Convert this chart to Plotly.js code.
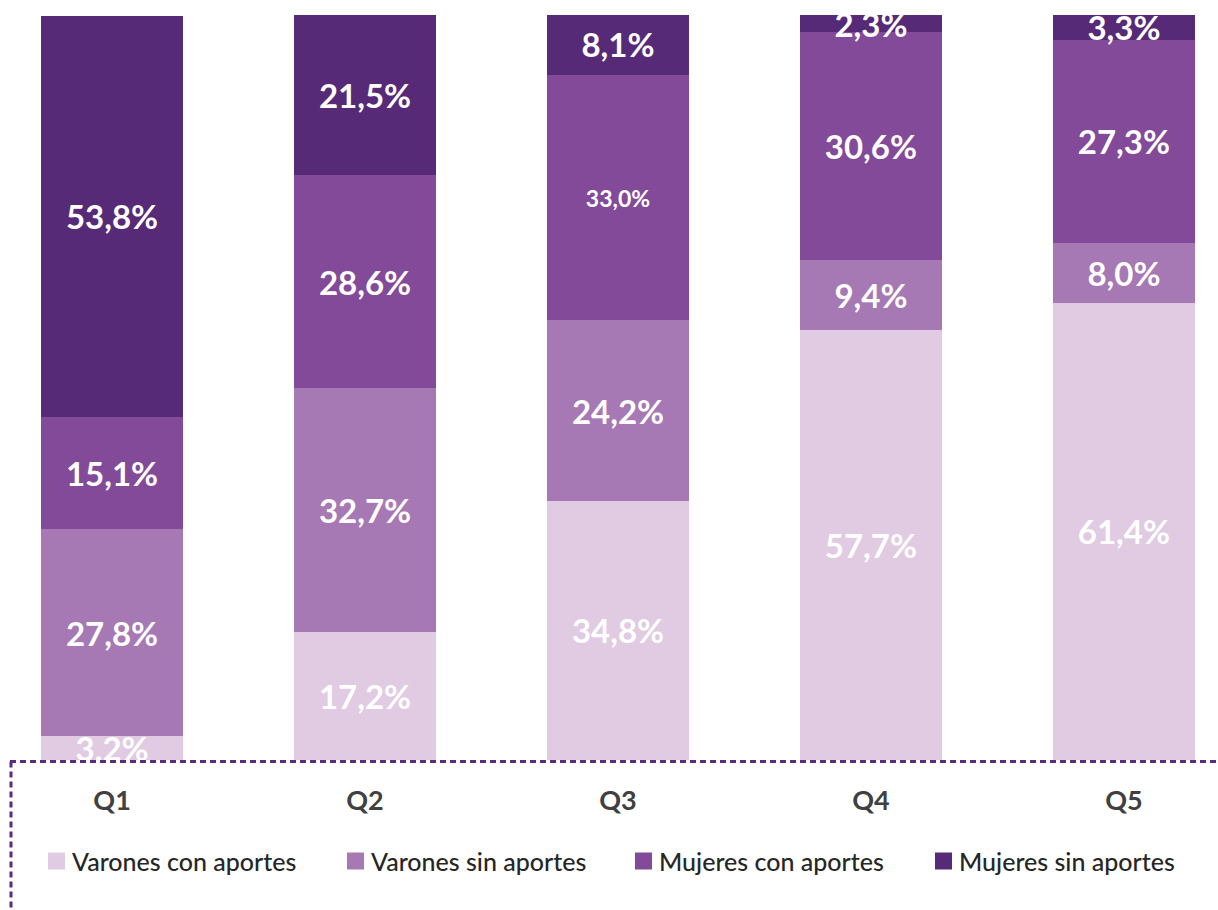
<!DOCTYPE html>
<html>
<head>
<meta charset="utf-8">
<script src="https://cdn.plot.ly/plotly-3.0.1.min.js"></script>
<style>
html,body{margin:0;padding:0;background:#fff;}
#chart{width:1218px;height:910px;}
</style>
</head>
<body>
<div id="chart"></div>
<script>
const categories = ['Q1', 'Q2', 'Q3', 'Q4', 'Q5'];
const seriesNames = ['Varones con aportes', 'Varones sin aportes', 'Mujeres con aportes', 'Mujeres sin aportes'];
const varonesConAportes = [3.2, 17.2, 34.8, 57.7, 61.4];
const varonesSinAportes = [27.8, 32.7, 24.2, 9.4, 8.0];
const mujeresConAportes = [15.1, 28.6, 33.0, 30.6, 27.3];
const mujeresSinAportes = [53.8, 21.5, 8.1, 2.3, 3.3];
const seriesColors = ['#E0CBE2', '#A779B4', '#834A9A', '#572A78'];
const labelSizes = [
  [33, 33, 33, 33, 33],
  [33, 33, 33, 33, 33],
  [33, 33, 23, 33, 33],
  [33, 33, 33, 33, 33]
];

const fmt = v => v.toFixed(1).replace('.', ',') + '%';
const allSeries = [varonesConAportes, varonesSinAportes, mujeresConAportes, mujeresSinAportes];
const legendIds = ['legend', 'legend2', 'legend3', 'legend4'];
const legendX = [32, 331, 619, 919];

const traces = allSeries.map((vals, i) => ({
  type: 'bar',
  name: seriesNames[i],
  legend: legendIds[i],
  x: categories,
  y: vals,
  text: vals.map(fmt),
  textposition: 'inside',
  insidetextanchor: 'middle',
  textangle: 0,
  constraintext: 'none',
  cliponaxis: true,
  textfont: {family: 'Lato, "Open Sans", sans-serif', size: labelSizes[i], color: '#ffffff', weight: 700},
  marker: {color: seriesColors[i], line: {width: 0}},
  hoverinfo: 'skip'
}));

const layout = {
  width: 1218,
  height: 910,
  margin: {l: 0, r: 0, t: 15, b: 150, pad: 0},
  paper_bgcolor: '#ffffff',
  plot_bgcolor: '#ffffff',
  barmode: 'stack',
  bargap: 0.439,
  showlegend: true,
  xaxis: {
    type: 'category',
    range: [-0.443, 4.372],
    showgrid: false,
    zeroline: false,
    showline: false,
    ticks: 'outside',
    ticklen: 0,
    ticklabelstandoff: 17,
    tickfont: {family: 'Lato, "Open Sans", sans-serif', size: 27, color: '#404040', weight: 700},
    fixedrange: true
  },
  yaxis: {
    range: [0, 100],
    showgrid: false,
    zeroline: false,
    showline: false,
    showticklabels: false,
    ticks: '',
    fixedrange: true
  },
  shapes: [
    {type: 'line', xref: 'paper', yref: 'paper', x0: 10 / 1218, x1: 1, y0: -1.5 / 745, y1: -1.5 / 745,
     line: {color: '#5B2A82', width: 3, dash: '6px,4px'}},
    {type: 'line', xref: 'paper', yref: 'paper', x0: 11 / 1218, x1: 11 / 1218, y0: -1.5 / 745, y1: -150 / 745,
     line: {color: '#5B2A82', width: 3, dash: '6px,4px'}}
  ]
};

legendIds.forEach((id, i) => {
  layout[id] = {
    orientation: 'h',
    x: legendX[i] / 1218,
    xanchor: 'left',
    y: -0.136,
    yanchor: 'middle',
    font: {family: 'Lato, "Open Sans", sans-serif', size: 25, color: '#262626', weight: 500},
    bgcolor: 'rgba(0,0,0,0)',
    borderwidth: 0
  };
});

Plotly.newPlot('chart', traces, layout, {displayModeBar: false, staticPlot: true}).then(gd => {
  gd.querySelectorAll('g.legendpoints path').forEach(p => {
    p.setAttribute('d', 'M13,8.5H-4V-8.5H13Z');
  });
});
</script>
</body>
</html>
